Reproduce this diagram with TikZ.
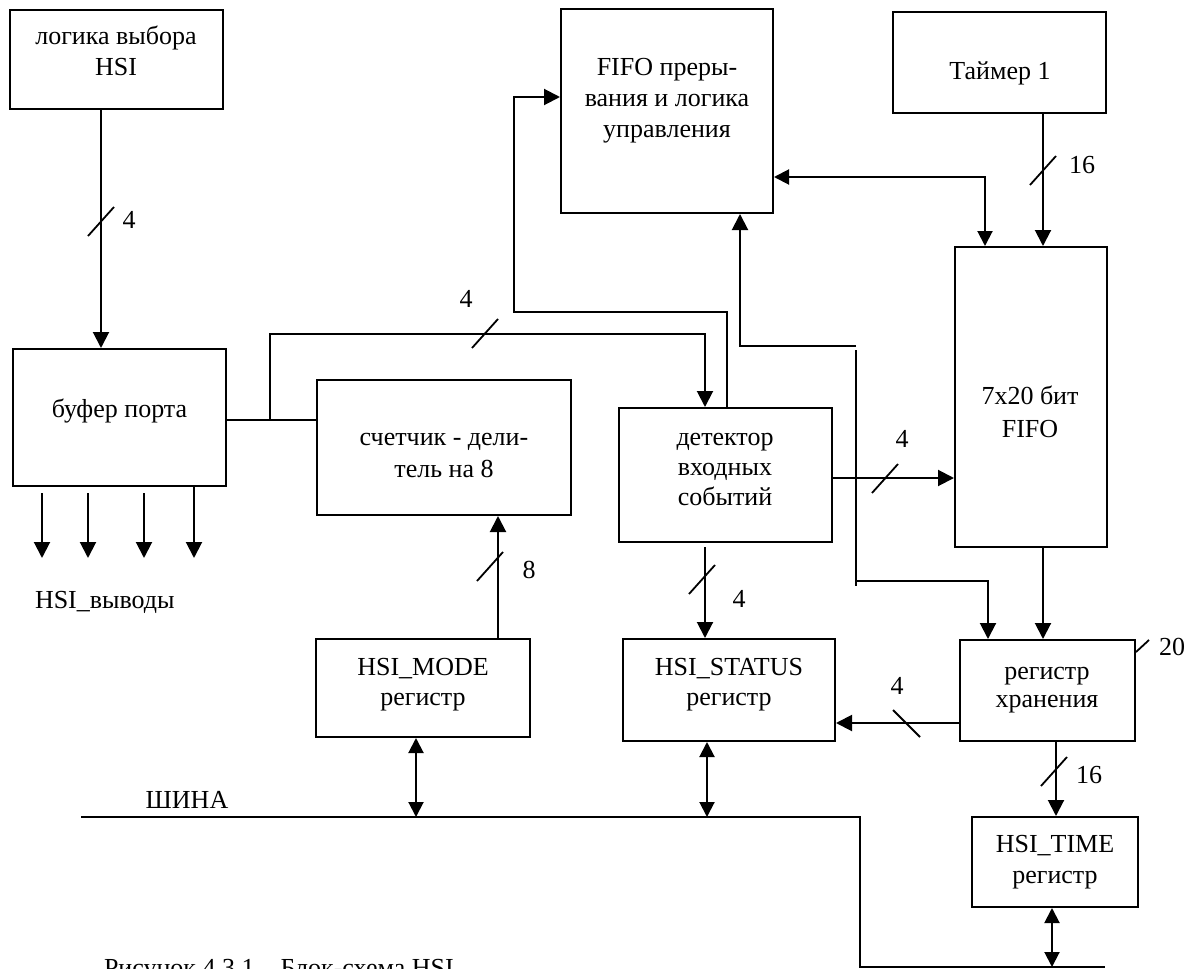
\documentclass[tikz,border=0pt]{standalone}
\usepackage{fontspec}
\setmainfont{Liberation Serif}
\usetikzlibrary{arrows.meta}
\newcommand{\tl}[2][31]{{\fontsize{26}{#1}\selectfont\begin{tabular}[t]{@{}c@{}}#2\end{tabular}}}
\newcommand{\mkslash}[1]{\draw[sl] (#1) ++(-13,14) -- ++(26,-29);}
\begin{document}
\begin{tikzpicture}[x=1pt,y=-1pt,line width=2pt,
  blk/.style={draw,rectangle,inner sep=0pt,line width=2pt},
  lbl/.style={font=\fontsize{26}{31}\selectfont,anchor=base,inner sep=0pt},
  arr/.style={-{Triangle[length=16pt 0 0,width=16pt 0 0]}},
  barr/.style={{Triangle[length=15pt 0 0,width=15pt 0 0]}-{Triangle[length=15pt 0 0,width=15pt 0 0]}},
  sl/.style={line width=1.8pt}]
\useasboundingbox (0,0) rectangle (1195,969);
% boxes
\node[blk,minimum width=213pt,minimum height=99pt] (logic) at (116.5,59.5) {};
\node[blk,minimum width=212pt,minimum height=204pt] (fint) at (667,111) {};
\node[blk,minimum width=213pt,minimum height=101pt] (tmr) at (999.5,62.5) {};
\node[blk,minimum width=213pt,minimum height=137pt] (buf) at (119.5,417.5) {};
\node[blk,minimum width=254pt,minimum height=135pt] (cnt) at (444,447.5) {};
\node[blk,minimum width=213pt,minimum height=134pt] (det) at (725.5,475) {};
\node[blk,minimum width=152pt,minimum height=300pt] (fifo) at (1031,397) {};
\node[blk,minimum width=214pt,minimum height=98pt] (mode) at (423,688) {};
\node[blk,minimum width=212pt,minimum height=102pt] (stat) at (729,690) {};
\node[blk,minimum width=175pt,minimum height=101pt] (reg) at (1047.5,690.5) {};
\node[blk,minimum width=166pt,minimum height=90pt] (time) at (1055,862) {};
% texts
\node[lbl] (logic-t) at (116,45) {\tl{логика выбора\\HSI}};
\node[lbl] (fint-t) at (667,75) {\tl{FIFO преры-\\вания и логика\\управления}};
\node[lbl] (tmr-t) at (1000,79) {Таймер 1};
\node[lbl] (buf-t) at (119.5,417) {буфер порта};
\node[lbl] (cnt-t) at (444,445) {\tl[32]{счетчик - дели-\\тель на 8}};
\node[lbl] (det-t) at (725,445) {\tl[30]{детектор\\входных\\событий}};
\node[lbl] (fifo-t) at (1030,404) {\tl[33]{7x20 бит\\FIFO}};
\node[lbl] (mode-t) at (423,675) {\tl[30]{HSI\_MODE\\регистр}};
\node[lbl] (stat-t) at (729,675) {\tl[30]{HSI\_STATUS\\регистр}};
\node[lbl] (reg-t) at (1047,679) {\tl[28]{регистр\\хранения}};
\node[lbl] (time-t) at (1055,852) {\tl[31]{HSI\_TIME\\регистр}};
\node[lbl,anchor=base west] (outs) at (34,608) {HSI\_выводы};
\node[lbl] (bus-t) at (187,808) {ШИНА};
\node[lbl,anchor=base west] (cap) at (103,976) {Рисунок 4.3.1 – Блок-схема HSI};
% bus widths
\node[lbl] (w1) at (129,228) {4};
\node[lbl] (w2) at (466,307) {4};
\node[lbl] (w3) at (1082,173) {16};
\node[lbl] (w4) at (902,447) {4};
\node[lbl] (w5) at (1172,655) {20};
\node[lbl] (w6) at (897,694) {4};
\node[lbl] (w7) at (1089,783) {16};
\node[lbl] (w8) at (529,578) {8};
\node[lbl] (w9) at (739,607) {4};
% connectors
\draw[arr] (101,0 |- logic.south) -- (101,0 |- buf.north);
\mkslash{101,222}
\foreach \x in {42,88,144} \draw[arr] (\x,493) -- (\x,558);
\draw[arr] (194,0 |- buf.south) -- (194,558);
\draw (buf.east |- 0,420) -- (cnt.west |- 0,420);
\coordinate (j1) at (270,420);
\draw[arr] (j1) -- (270,334) -- (705,334) -- (705,0 |- det.north);
\mkslash{485,334}
\draw[arr] (727,0 |- det.north) -- (727,312) -- (514,312) -- (514,97) -- (fint.west |- 0,97);
\draw[arr] (856,346) -- (740,346) -- (740,0 |- fint.south);
\draw (856,350) -- (856,586);
\draw[arr] (856,581) -- (988,581) -- (988,0 |- reg.north);
\draw[barr] (fint.east |- 0,177) -- (985,177) -- (985,0 |- fifo.north);
\draw[arr] (1043,0 |- tmr.south) -- (1043,0 |- fifo.north);
\mkslash{1043,171}
\draw[arr] (det.east |- 0,478) -- (fifo.west |- 0,478);
\mkslash{885,479}
\draw[arr] (1043,0 |- fifo.south) -- (1043,0 |- reg.north);
\draw[sl] (reg.north east) ++(0,13) -- ++(13,-12);
\draw[arr] (reg.west |- 0,723) -- (stat.east |- 0,723);
\draw[sl] (906,723) ++(-13,-13) -- ++(27,27);
\draw[arr] (1056,0 |- reg.south) -- (1056,0 |- time.north);
\mkslash{1054,772}
\draw[arr] (498,0 |- mode.north) -- (498,0 |- cnt.south);
\mkslash{490,567}
\draw[arr] (705,547) -- (705,0 |- stat.north);
\mkslash{702,580}
% bus
\coordinate (busL) at (81,817);
\coordinate (busR) at (1105,967);
\draw (busL) -- (860,817) -- (860,967) -- (busR);
\draw[barr] (416,0 |- mode.south) -- (416,817);
\draw[barr] (707,0 |- stat.south) -- (707,817);
\draw[barr] (1052,0 |- time.south) -- (1052,967);
\end{tikzpicture}
\end{document}
